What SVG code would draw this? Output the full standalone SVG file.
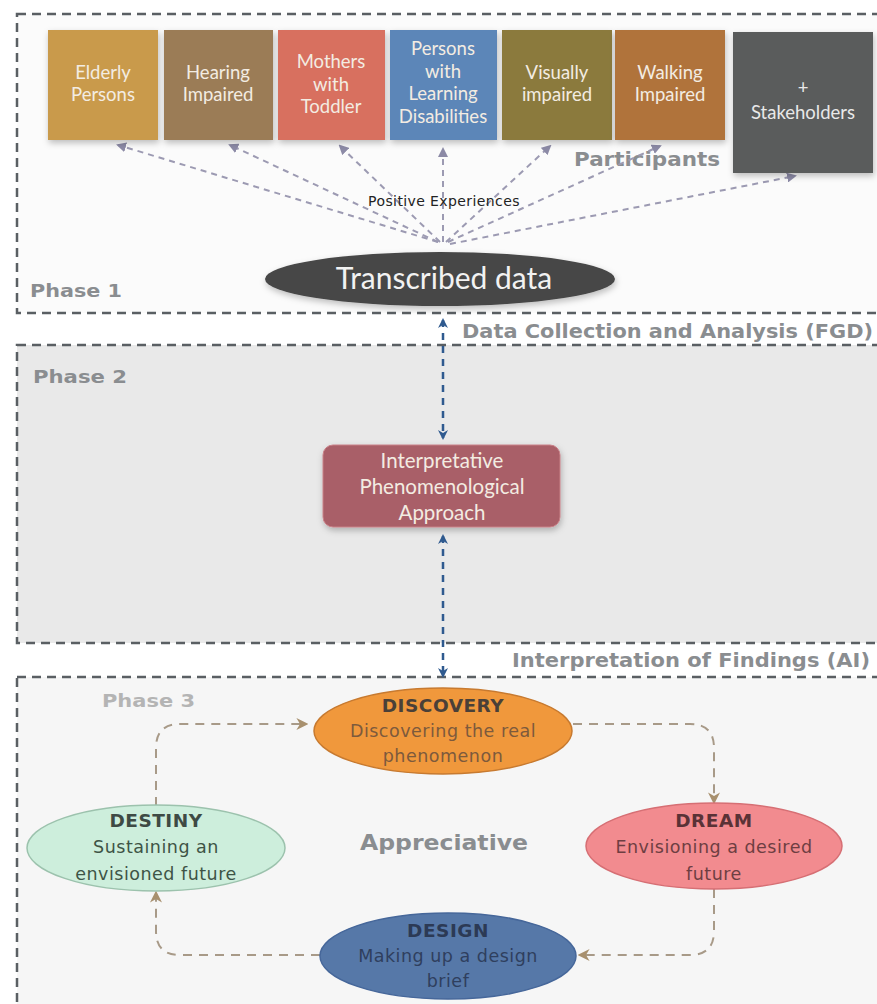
<svg xmlns="http://www.w3.org/2000/svg" width="877" height="1004" viewBox="0 0 877 1004">
<defs>
<style>
.phase{stroke:#5a5f63;stroke-width:2.5;stroke-dasharray:9 6}
.plabel{font-family:"DejaVu Sans",sans-serif;font-weight:bold;fill:#8a8d90}
.ptxt{font-family:Lato,"Liberation Sans",sans-serif;font-size:18.5px;fill:#f3ece2;text-anchor:middle}
.fan{fill:none;stroke:#9c9ab2;stroke-width:2;stroke-dasharray:6 5}
.blue{fill:none;stroke:#2f5a8f;stroke-width:2.5;stroke-dasharray:7 6}
.loop{fill:none;stroke:#a89a88;stroke-width:2;stroke-dasharray:9 7}
.etitle{font-family:"DejaVu Sans",sans-serif;font-weight:bold;font-size:18.5px;letter-spacing:0.5px;text-anchor:middle}
.esub{font-family:"DejaVu Sans",sans-serif;font-size:17.5px;letter-spacing:0.5px;text-anchor:middle}
</style>
<marker id="mFan" viewBox="0 0 10 10" refX="8" refY="5" markerWidth="5" markerHeight="5" orient="auto"><path d="M0,0 L10,5 L0,10 z" fill="#8c8aa6"/></marker>
<marker id="mBlue" viewBox="0 0 10 10" refX="8" refY="5" markerWidth="4" markerHeight="4" orient="auto-start-reverse"><path d="M0,0 L10,5 L0,10 L3,5 z" fill="#2f5a8f"/></marker>
<marker id="mLoop" viewBox="0 0 10 10" refX="8" refY="5" markerWidth="6" markerHeight="6" orient="auto"><path d="M0,0 L10,5 L0,10 L3,5 z" fill="#a8906e"/></marker>
<filter id="sh" x="-10%" y="-10%" width="130%" height="140%"><feDropShadow dx="1" dy="3" stdDeviation="3" flood-color="#000" flood-opacity="0.25"/></filter>
</defs>
<rect width="877" height="1004" fill="#ffffff"/>

<g id="phase1">
<rect x="17" y="14" width="880" height="299" fill="#fbfbfb" class="phase"/>
<text x="30" y="297" class="plabel" font-size="18" textLength="92" lengthAdjust="spacingAndGlyphs">Phase 1</text>
<text x="574" y="166" class="plabel" font-size="19" textLength="146" lengthAdjust="spacingAndGlyphs">Participants</text>
<text x="462" y="338" class="plabel" font-size="19" textLength="411" lengthAdjust="spacingAndGlyphs">Data Collection and Analysis (FGD)</text>
</g>
<g id="phase2">
<rect x="17" y="345" width="880" height="298" fill="#e9e9e9" class="phase"/>
<text x="33" y="383" class="plabel" font-size="18" textLength="94" lengthAdjust="spacingAndGlyphs">Phase 2</text>
<text x="512" y="667" class="plabel" font-size="19" textLength="358" lengthAdjust="spacingAndGlyphs">Interpretation of Findings (AI)</text>
</g>
<g id="phase3">
<rect x="17" y="677" width="880" height="340" fill="#f6f6f6" class="phase"/>
<text x="102" y="707" class="plabel" font-size="18" textLength="93" lengthAdjust="spacingAndGlyphs" style="fill:#b4b4b4">Phase 3</text>
<text x="360" y="850" class="plabel" font-size="21" textLength="168" lengthAdjust="spacingAndGlyphs">Appreciative</text>
</g>

<g id="connectors">
<path class="fan" d="M438,242 L118,145" marker-end="url(#mFan)"/>
<path class="fan" d="M438,242 L230,145" marker-end="url(#mFan)"/>
<path class="fan" d="M440,242 L340,146" marker-end="url(#mFan)"/>
<path class="fan" d="M443,242 L443,149" marker-end="url(#mFan)"/>
<path class="fan" d="M446,242 L550,146" marker-end="url(#mFan)"/>
<path class="fan" d="M448,242 L660,146" marker-end="url(#mFan)"/>
<path class="fan" d="M450,244 L795,176" marker-end="url(#mFan)"/>
<path class="blue" d="M443,320 L443,438" marker-start="url(#mBlue)" marker-end="url(#mBlue)"/>
<path class="blue" d="M443,536 L443,676" marker-start="url(#mBlue)" marker-end="url(#mBlue)"/>
<path class="loop" d="M573,724 L690,724 Q714,724 714,748 L714,802" marker-end="url(#mLoop)"/>
<path class="loop" d="M714,889 L714,931 Q714,955 690,955 L580,955" marker-end="url(#mLoop)"/>
<path class="loop" d="M320,955 L180,955 Q156,955 156,931 L156,893" marker-end="url(#mLoop)"/>
<path class="loop" d="M156,806 L156,748 Q156,724 180,724 L306,724" marker-end="url(#mLoop)"/>
</g>

<g id="elderly"><rect x="48" y="30" width="110" height="110" fill="#c99a4c" filter="url(#sh)"/><text class="ptxt"><tspan x="103" y="79">Elderly</tspan><tspan x="103" y="101">Persons</tspan></text></g>
<g id="hearing"><rect x="164" y="30" width="109" height="110" fill="#9b7b57" filter="url(#sh)"/><text class="ptxt"><tspan x="218" y="79">Hearing</tspan><tspan x="218" y="101">Impaired</tspan></text></g>
<g id="mothers"><rect x="278" y="30" width="107" height="110" fill="#d8705f" filter="url(#sh)"/><text class="ptxt"><tspan x="331" y="68">Mothers</tspan><tspan x="331" y="91">with</tspan><tspan x="331" y="113">Toddler</tspan></text></g>
<g id="learning"><rect x="390" y="30" width="107" height="110" fill="#5b86b8" filter="url(#sh)"/><text class="ptxt"><tspan x="443" y="55">Persons</tspan><tspan x="443" y="78">with</tspan><tspan x="443" y="100">Learning</tspan><tspan x="443" y="123">Disabilities</tspan></text></g>
<g id="visually"><rect x="502" y="30" width="110" height="110" fill="#8b7a3c" filter="url(#sh)"/><text class="ptxt"><tspan x="557" y="79">Visually</tspan><tspan x="557" y="101">impaired</tspan></text></g>
<g id="walking"><rect x="615" y="30" width="110" height="110" fill="#b0733b" filter="url(#sh)"/><text class="ptxt"><tspan x="670" y="79">Walking</tspan><tspan x="670" y="101">Impaired</tspan></text></g>
<g id="stakeholders"><rect x="733" y="32" width="140" height="141" fill="#5a5b5c" filter="url(#sh)"/><text class="ptxt" style="fill:#e8e8e8"><tspan x="803" y="94">+</tspan><tspan x="803" y="119">Stakeholders</tspan></text></g>

<g id="positive"><text x="444" y="206" font-family="'DejaVu Sans',sans-serif" font-size="14" letter-spacing="0.4" fill="#222" text-anchor="middle">Positive Experiences</text></g>

<g id="transcribed"><ellipse cx="440" cy="279" rx="175" ry="27" fill="#474747" filter="url(#sh)"/><text x="444" y="289" font-family="Lato,'Liberation Sans',sans-serif" font-size="30" fill="#f2f2f2" text-anchor="middle">Transcribed data</text></g>

<g id="ipa"><rect x="323" y="445" width="237" height="82" rx="10" fill="#a95f67" stroke="#c98088" stroke-width="1" filter="url(#sh)"/><text class="ptxt" style="font-size:20.5px"><tspan x="442" y="468">Interpretative</tspan><tspan x="442" y="494">Phenomenological</tspan><tspan x="442" y="520">Approach</tspan></text></g>

<g id="discovery"><ellipse cx="443" cy="731" rx="129" ry="43" fill="#f0983c" stroke="#c77a30" stroke-width="1.5"/><text class="etitle" x="443" y="712" fill="#4a4038">DISCOVERY</text><text class="esub" fill="#7d5a3c"><tspan x="443" y="737">Discovering the real</tspan><tspan x="443" y="762">phenomenon</tspan></text></g>
<g id="dream"><ellipse cx="714" cy="846" rx="128" ry="43" fill="#f28b8f" stroke="#d66f74" stroke-width="1.5"/><text class="etitle" x="714" y="827" fill="#5a3236">DREAM</text><text class="esub" fill="#6e3e42"><tspan x="714" y="853">Envisioning a desired</tspan><tspan x="714" y="880">future</tspan></text></g>
<g id="destiny"><ellipse cx="156" cy="848" rx="129" ry="43" fill="#cdeedc" stroke="#9cc2ad" stroke-width="1.5"/><text class="etitle" x="156" y="827" fill="#3e4a44">DESTINY</text><text class="esub" fill="#3e5446"><tspan x="156" y="853">Sustaining an</tspan><tspan x="156" y="880">envisioned future</tspan></text></g>
<g id="design"><ellipse cx="448" cy="956" rx="128" ry="43" fill="#5678a8" stroke="#46679a" stroke-width="1.5"/><text class="etitle" x="448" y="937" fill="#2c3a55">DESIGN</text><text class="esub" fill="#2f3f5e"><tspan x="448" y="962">Making up a design</tspan><tspan x="448" y="987">brief</tspan></text></g>
</svg>
